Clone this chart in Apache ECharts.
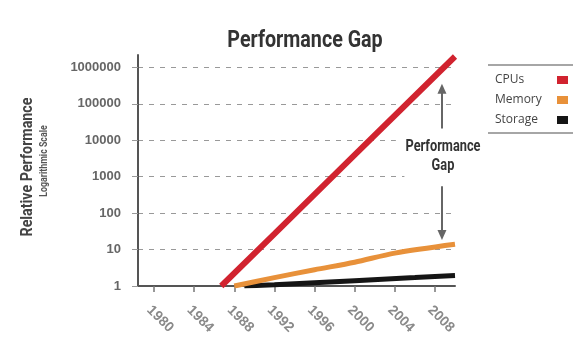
<!DOCTYPE html>
<html>
<head>
<meta charset="utf-8">
<script src="https://cdn.jsdelivr.net/npm/echarts@6/dist/echarts.min.js"></script>
<style>
  html, body { margin: 0; padding: 0; background: #fff; }
  #chart { width: 583px; height: 351px; }
</style>
</head>
<body>
<div id="chart"></div>
<script>
// values (log scale, relative to 1)
var yearTicks = [1980, 1984, 1988, 1992, 1996, 2000, 2004, 2008];
var perfTicks = [1, 10, 100, 1000, 10000, 100000, 1000000];

var cpuYears = [1986.7, 1992, 2000, 2010];
var cpuValues = [1, 27, 4000, 2000000];

var memoryYears = [1988, 1992, 1996, 2000, 2004, 2010];
var memoryValues = [1, 1.7, 2.8, 4.5, 8, 14];

var storageYears = [1989, 1992, 2000, 2006, 2010];
var storageValues = [1, 1.08, 1.4, 1.7, 1.95];

// arrows of the "Performance Gap" note: [year, from, to]
var gapArrowUp = [2008.7, 21000, 260000];
var gapArrowDown = [2008.7, 550, 25];

function pairs(xs, ys) {
  return xs.map(function (x, i) { return [x, ys[i]]; });
}

// no condensed face installed, so squeeze Roboto bold sideways
var headFont = "Roboto, sans-serif";

function narrowText(text, x, y, size, fill, squeeze, rotate, extra) {
  var style = {
    text: text,
    fontFamily: headFont,
    fontWeight: "bold",
    fontSize: size,
    fill: fill,
    align: "center",
    verticalAlign: "middle"
  };
  if (extra) Object.assign(style, extra);
  return {
    type: "text",
    x: x,
    y: y,
    z: 50,
    scaleX: squeeze,
    rotation: rotate || 0,
    style: style
  };
}

var chart = echarts.init(document.getElementById("chart"));

chart.setOption({
  animation: false,
  backgroundColor: "#fff",
  legend: {
    orient: "vertical",
    left: 490,
    top: 69,
    itemGap: 8,
    itemWidth: 11,
    itemHeight: 8,
    icon: "rect",
    align: "right",
    formatter: "{a|{name}}",
    textStyle: {
      color: "#444",
      fontFamily: "'Open Sans', sans-serif",
      fontSize: 12,
      rich: { a: { width: 57, align: "left", fontFamily: "'Open Sans', sans-serif", fontSize: 12, color: "#444" } }
    },
    data: ["CPUs", "Memory", "Storage"]
  },
  grid: {
    left: 138,
    right: 128,
    top: 55,
    bottom: 65
  },
  xAxis: {
    type: "value",
    min: 1978.4,
    max: 2010,
    axisLine: { lineStyle: { color: "#555", width: 2 } },
    axisTick: {
      customValues: yearTicks,
      length: 6,
      lineStyle: { color: "#777", width: 1.5 }
    },
    axisLabel: {
      customValues: yearTicks,
      rotate: -45,
      margin: 17,
      verticalAlign: "top",
      fontSize: 14,
      fontWeight: "bold",
      color: "#8a8a8a",
      fontFamily: "'Liberation Sans', sans-serif",
      formatter: function (v) { return String(v); }
    },
    splitLine: { show: false }
  },
  yAxis: {
    type: "log",
    logBase: 10,
    min: 1,
    max: 2200000,
    axisLine: { show: true, lineStyle: { color: "#555", width: 2 } },
    axisTick: {
      show: true,
      customValues: perfTicks,
      length: 6,
      lineStyle: { color: "#999", width: 1 }
    },
    axisLabel: {
      customValues: perfTicks,
      margin: 17,
      fontSize: 13,
      fontWeight: "bold",
      color: "#666",
      fontFamily: "'Liberation Sans', sans-serif",
      formatter: function (v) { return String(Math.round(v)); }
    },
    splitLine: {
      show: true,
      lineStyle: { color: "#999", width: 1, type: [5, 6] }
    }
  },
  series: [
    {
      name: "Storage",
      type: "line",
      symbol: "none",
      color: "#151515",
      lineStyle: { width: 5, color: "#151515" },
      data: pairs(storageYears, storageValues),
      z: 3
    },
    {
      name: "Memory",
      type: "line",
      symbol: "none",
      smooth: 0.3,
      color: "#e8913a",
      lineStyle: { width: 5, color: "#e8913a" },
      data: pairs(memoryYears, memoryValues),
      z: 4
    },
    {
      name: "CPUs",
      type: "line",
      symbol: "none",
      color: "#d1232f",
      lineStyle: { width: 6, color: "#d1232f" },
      data: pairs(cpuYears, cpuValues),
      clip: false,
      z: 5,
      markLine: {
        silent: true,
        symbol: ["none", "triangle"],
        symbolSize: [9, 10],
        label: { show: false },
        lineStyle: { color: "#666", width: 2, type: "solid" },
        data: [
          [{ coord: [gapArrowUp[0], gapArrowUp[1]] }, { coord: [gapArrowUp[0], gapArrowUp[2]] }],
          [{ coord: [gapArrowDown[0], gapArrowDown[1]] }, { coord: [gapArrowDown[0], gapArrowDown[2]] }]
        ]
      }
    }
  ],
  graphic: [
    narrowText("Performance Gap", 305, 41, 24, "#333", 0.82),
    narrowText("Relative Performance", 28, 167, 17, "#444", 0.84, Math.PI / 2),
    narrowText("Logarithmic Scale", 44, 161, 11, "#555", 0.8, Math.PI / 2),
    narrowText("Performance", 443, 147, 16, "#333", 0.8,
      0, { backgroundColor: "#fff", padding: [3, 12, 3, 12] }),
    narrowText("Gap", 443, 166, 16, "#333", 0.8,
      0, { backgroundColor: "#fff", padding: [3, 34, 3, 34] }),
    {
      type: "line",
      shape: { x1: 488, y1: 65, x2: 573, y2: 65 },
      style: { stroke: "#888", lineWidth: 1.5 }
    },
    {
      type: "line",
      shape: { x1: 488, y1: 133, x2: 573, y2: 133 },
      style: { stroke: "#888", lineWidth: 1.5 }
    }
  ]
});
</script>
</body>
</html>
